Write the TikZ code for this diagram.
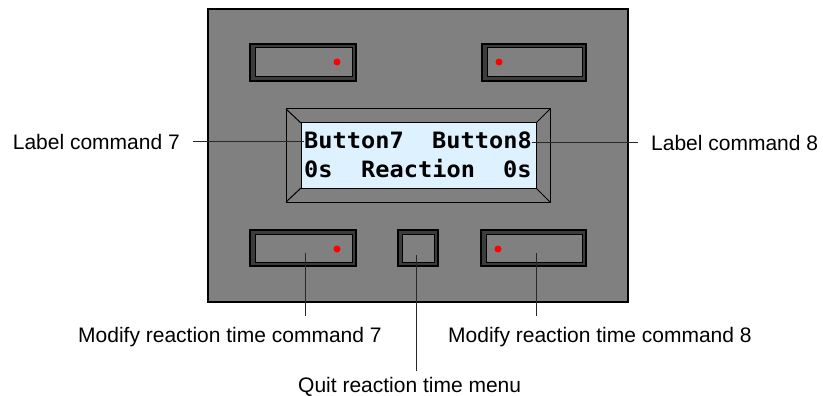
\documentclass[tikz,border=0pt]{standalone}
\usepackage{fontspec}
\setmainfont{Liberation Sans}
\newfontfamily\lcdfont[FakeStretch=1.05]{DejaVu Sans Mono}
\definecolor{panelgray}{RGB}{128,128,128}
\definecolor{btnband}{RGB}{60,60,60}
\definecolor{lcdblue}{RGB}{221,241,255}
\definecolor{leader}{RGB}{40,40,40}
\tikzset{
  btnouter/.style={fill=btnband,draw=black,line width=1.6pt},
  btninner/.style={fill=panelgray,draw=black,line width=1pt},
  reddot/.style={fill=red,draw=none},
  lcdtext/.style={inner sep=0pt,anchor=base west,font=\lcdfont\bfseries\fontsize{22.5pt}{27pt}\selectfont},
  sidelabel/.style={inner ysep=0pt,inner xsep=13pt,font=\fontsize{21pt}{25pt}\selectfont},
  botlabel/.style={inner xsep=0pt,anchor=base west,font=\fontsize{21pt}{25pt}\selectfont},
  leaderline/.style={draw=leader,line width=0.9pt}
}
\begin{document}
\begin{tikzpicture}[x=1pt,y=-1pt]
\useasboundingbox (0,0) rectangle (823,396);
% panel
\draw[fill=panelgray,draw=black,line width=1.5pt] (208,9) rectangle (628,302);
% top buttons
\draw[btnouter] (250,44) rectangle (356,81);
\draw[btninner] (255,48) rectangle (352,77);
\fill[reddot] (337,62) circle (3.5);
\draw[btnouter] (482,44) rectangle (586,81);
\draw[btninner] (487,48) rectangle (582,77);
\fill[reddot] (499,62) circle (3.5);
% bottom buttons
\draw[btnouter] (250,230) rectangle (356,266);
\draw[btninner] (255,234) rectangle (352,262);
\fill[reddot] (337,249) circle (3.5);
\draw[btnouter] (398,230) rectangle (438,266);
\draw[btninner] (402,234) rectangle (434,262);
\draw[btnouter] (481,230) rectangle (586,266);
\draw[btninner] (486,234) rectangle (582,262);
\fill[reddot] (498,249) circle (3.5);
% LCD
\draw[fill=panelgray,draw=black,line width=1pt] (286,109) rectangle (550,202);
\draw[fill=lcdblue,draw=black,line width=1pt] (301,123) rectangle (536,188);
\draw[black,line width=1pt] (286,109) -- (301,123) (550,109) -- (536,123)
  (286,202) -- (301,188) (550,202) -- (536,188);
\node[lcdtext] (b7) at (304,148) {Button7};
\node[lcdtext] (b8) at (432,148) {Button8};
\node[lcdtext] (t0a) at (304,177) {0s};
\node[lcdtext] (treac) at (361,177) {Reaction};
\node[lcdtext] (t0b) at (503,177) {0s};
% labels
\node[sidelabel,anchor=east] (lab7) at (193,141.5) {Label command 7};
\node[sidelabel,anchor=west] (lab8) at (638,142.5) {Label command 8};
\node[botlabel,inner ysep=11pt] (labm7) at (78,342) {Modify reaction time command 7};
\node[botlabel,inner ysep=11pt] (labm8) at (448,342) {Modify reaction time command 8};
\node[botlabel,inner ysep=5.5pt] (labq) at (298,392) {Quit reaction time menu};
\coordinate (pm7) at (305,253);
\coordinate (pq) at (416,255);
\coordinate (pm8) at (536,253);
% leader lines
\draw[leaderline] (lab7.east) -- (lab7.east -| b7.west);
\draw[leaderline] (lab8.west -| b8.east) -- (lab8.west);
\draw[leaderline] (pm7) -- (pm7 |- labm7.north);
\draw[leaderline] (pq) -- (pq |- labq.north);
\draw[leaderline] (pm8) -- (pm8 |- labm8.north);
\end{tikzpicture}
\end{document}
